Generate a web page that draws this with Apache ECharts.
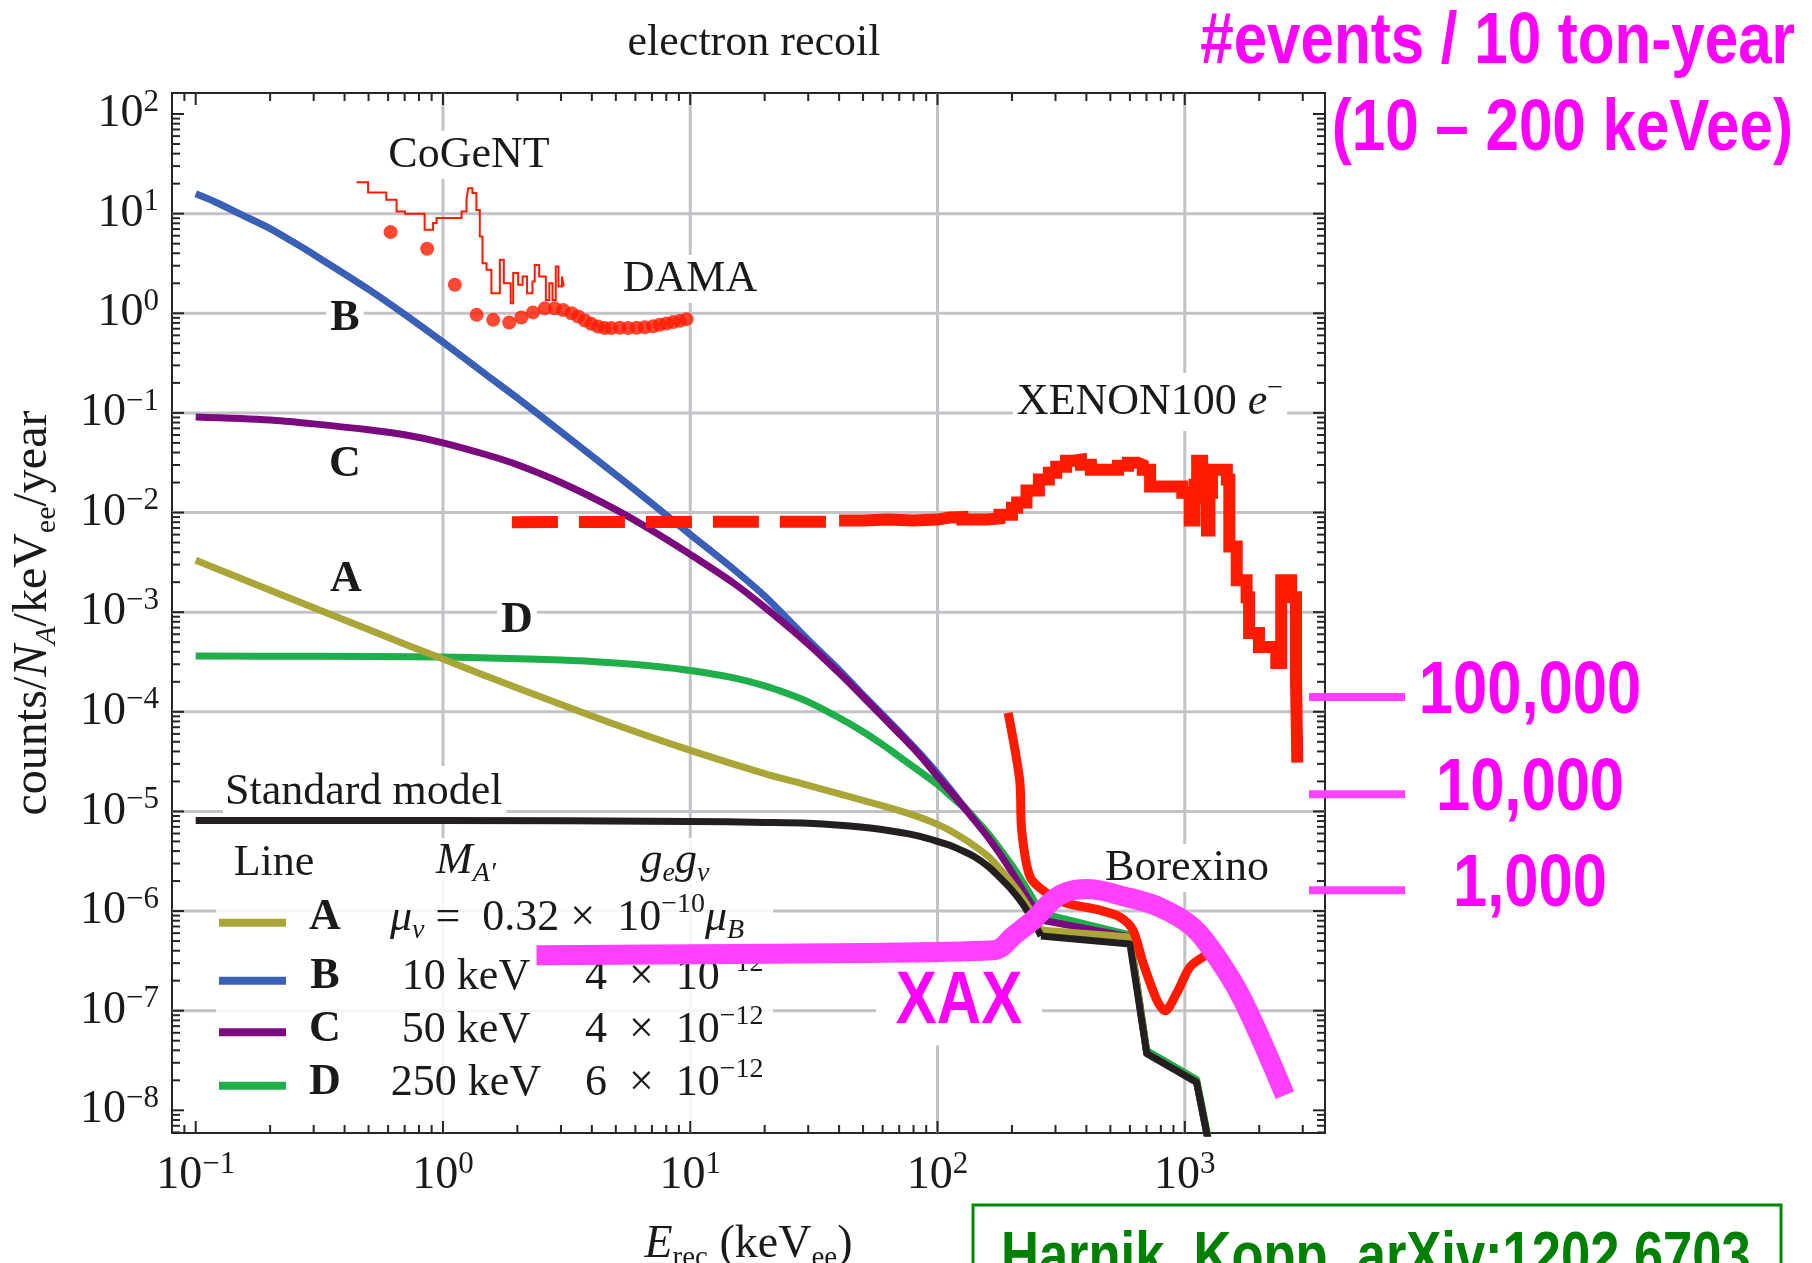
<!DOCTYPE html>
<html><head><meta charset="utf-8">
<script src="https://cdn.jsdelivr.net/npm/echarts@6/dist/echarts.min.js"></script>
<style>html,body{margin:0;padding:0;background:#fff}#c{width:1812px;height:1263px}</style>
</head><body><div id="c"></div>
<script>
// ---------- axis ranges & tick values ----------
const X_MIN = 0.0802, X_MAX = 3690, Y_MIN = 5.92e-9, Y_MAX = 162.5;
const xDecades = [0.01, 0.1, 1, 10, 100, 1000];
const yDecades = [1e-9, 1e-8, 1e-7, 1e-6, 1e-5, 1e-4, 1e-3, 1e-2, 1e-1, 1, 10, 100];
const tickMantissas = [1, 2, 3, 4, 5, 6, 7, 8, 9];
const xLabelVals = [0.1, 1, 10, 100, 1000];
const yLabelVals = [1e-8, 1e-7, 1e-6, 1e-5, 1e-4, 1e-3, 1e-2, 1e-1, 1, 10, 100];
const xGridVals = [1, 10, 100, 1000];
const yGridVals = [1e-7, 1e-6, 1e-5, 1e-4, 1e-3, 1e-2, 1e-1, 1, 10];

// ---------- model curves (E in keVee, counts/N_A/keVee/year) ----------
const lineB = [[0.1,15.8],[0.12,13.1],[0.15,10.0],[0.2,7.08],[0.25,5.12],[0.3,3.89],[0.5,1.74],[0.7,0.977],[1,0.513],[1.5,0.240],[2,0.141],[3,0.0646],[5,0.0240],[7,0.0123],[10,6.03e-3],[15,2.69e-3],[20,1.45e-3],[30,5.25e-4],[40,2.63e-4],[50,1.48e-4],[70,6.31e-5],[85,3.80e-5],[100,2.40e-5],[112,1.70e-5],[125,1.20e-5],[140,8.71e-6],[160,5.75e-6],[178,3.89e-6],[200,2.51e-6],[220,1.70e-6],[240,1.20e-6],[250,1.05e-6],[262,8.51e-7]];
const tailB = [[262,8.51e-7],[600,5.37e-7],[702,3.72e-8],[1117,1.91e-8],[1227,5.89e-9],[1290,3.16e-9]];
const lineC = [[0.1,0.0912],[0.2,0.0851],[0.3,0.0776],[0.5,0.0676],[0.7,0.0603],[1,0.0501],[1.5,0.0380],[2,0.0302],[3,0.0200],[5,0.0107],[7,6.61e-3],[10,3.80e-3],[15,1.95e-3],[20,1.12e-3],[30,4.79e-4],[40,2.45e-4],[50,1.41e-4],[70,6.03e-5],[85,3.63e-5],[100,2.24e-5],[112,1.62e-5],[125,1.17e-5],[140,8.32e-6],[160,5.50e-6],[178,3.80e-6],[200,2.45e-6],[220,1.66e-6],[240,1.17e-6],[250,1.02e-6],[262,8.13e-7]];
const tailC = [[262,8.13e-7],[600,5.50e-7],[702,3.72e-8],[1117,1.91e-8],[1227,5.89e-9],[1290,3.16e-9]];
const lineD = [[0.1,3.63e-4],[0.3,3.60e-4],[1,3.55e-4],[3,3.31e-4],[5,3.09e-4],[7,2.88e-4],[10,2.60e-4],[15,2.19e-4],[20,1.82e-4],[25,1.51e-4],[30,1.26e-4],[40,8.71e-5],[50,6.31e-5],[60,4.68e-5],[70,3.55e-5],[85,2.51e-5],[100,1.86e-5],[112,1.45e-5],[125,1.15e-5],[140,8.71e-6],[160,6.03e-6],[178,4.27e-6],[200,2.88e-6],[220,2.00e-6],[240,1.41e-6],[250,1.17e-6],[262,9.55e-7]];
const tailD = [[262,9.55e-7],[600,5.75e-7],[702,3.98e-8],[1117,2.04e-8],[1227,6.3e-9],[1290,3.4e-9]];
const lineA = [[0.1,3.31e-3],[0.2,1.66e-3],[0.5,6.68e-4],[1,3.38e-4],[2,1.73e-4],[5,7.4e-5],[10,4.1e-5],[20,2.4e-5],[30,1.83e-5],[50,1.29e-5],[70,1.02e-5],[85,8.71e-6],[100,7.41e-6],[112,6.46e-6],[125,5.50e-6],[140,4.57e-6],[160,3.55e-6],[178,2.69e-6],[200,1.91e-6],[220,1.38e-6],[240,9.77e-7],[250,8.32e-7],[262,6.46e-7]];
const tailA = [[262,6.46e-7],[600,5.50e-7],[702,3.72e-8],[1117,1.91e-8],[1227,5.89e-9],[1290,3.16e-9]];
const lineSM = [[0.1,8.13e-6],[1,8.13e-6],[10,7.94e-6],[20,7.76e-6],[30,7.59e-6],[50,6.92e-6],[70,6.17e-6],[85,5.62e-6],[100,5.01e-6],[112,4.57e-6],[125,4.07e-6],[140,3.55e-6],[160,2.82e-6],[178,2.19e-6],[200,1.62e-6],[220,1.20e-6],[243,8.13e-7],[262,5.62e-7]];
const tailSM = [[262,5.62e-7],[600,4.68e-7],[702,3.72e-8],[1117,1.91e-8],[1227,5.89e-9],[1290,3.16e-9]];

// ---------- experimental data ----------
const cogent = [[0.447,20.6],[0.498,16.3],[0.590,13.8],[0.649,10.5],[0.702,9.98],[0.843,6.89],[0.912,8.04],[0.942,9.02],[1.189,10.5],[1.245,13.8],[1.265,18.0],[1.315,16.1],[1.365,10.9],[1.409,5.90],[1.445,3.18],[1.500,2.73],[1.570,1.59],[1.698,3.44],[1.762,2.00],[1.879,1.26],[1.923,2.53],[2.014,1.93],[2.099,2.34],[2.188,1.59],[2.301,2.08],[2.350,3.06],[2.449,2.34],[2.606,1.36],[2.692,2.00],[2.773,1.36],[2.858,2.95],[2.931,1.86],[3.027,2.34],[3.083,1.86]];
const dama = [[0.614,6.53],[0.863,4.44],[1.117,1.93],[1.368,0.964],[1.596,0.859],[1.854,0.807],[2.075,0.908],[2.312,1.02],[2.582,1.12],[2.831,1.12],[3.062,1.08],[3.311,1.00],[3.524,0.929],[3.750,0.847],[3.981,0.783],[4.236,0.736],[4.508,0.710],[4.797,0.710],[5.188,0.715],[5.610,0.710],[6.067,0.715],[6.546,0.724],[7.079,0.741],[7.534,0.766],[8.017,0.789],[8.531,0.815],[9.078,0.839],[9.661,0.873]];
const xenonDashed = [[1.9,8.0e-3],[40,8.1e-3]];
const xenonSolid = [[40,8.3e-3],[50,8.5e-3],[63,8.3e-3],[80,8.5e-3],[100,8.9e-3],[112,9.0e-3],[126,8.5e-3],[158,8.7e-3],[178,9.5e-3],[200,1.12e-2],[210,1.26e-2],[229,1.66e-2],[257,2.14e-2],[282,2.51e-2],[302,2.88e-2],[331,3.31e-2],[355,3.39e-2],[380,3.02e-2],[417,2.69e-2],[501,2.69e-2],[537,2.95e-2],[589,3.16e-2],[646,3.02e-2],[676,2.69e-2],[724,1.82e-2],[851,1.82e-2],[977,1.58e-2],[1047,8.3e-3],[1096,1.9e-2],[1122,3.31e-2],[1175,1.41e-2],[1230,6.6e-3],[1259,1.58e-2],[1288,2.69e-2],[1479,2.14e-2],[1514,4.57e-3],[1622,2.09e-3],[1778,1.41e-3],[1820,6.17e-4],[1995,4.47e-4],[2239,4.47e-4],[2344,3.09e-4],[2455,2.09e-3],[2692,1.41e-3],[2818,2.09e-4],[2851,3.09e-5]];
const borexino = [[193,9.77e-5],[215,2.04e-5],[219,6.46e-6],[237,2.19e-6],[277,1.51e-6],[333,1.20e-6],[454,1.02e-6],[547,8.71e-7],[617,6.46e-7],[678,3.02e-7],[773,1.26e-7],[832,1.0e-7],[929,1.51e-7],[1050,2.75e-7],[1186,3.47e-7],[1259,3.80e-7]];
const xax = [[2.39,3.61e-7],[50,3.8e-7],[169,4.05e-7],[184,4.45e-7],[200,5.47e-7],[243,8.09e-7],[293,1.29e-6],[333,1.55e-6],[402,1.66e-6],[583,1.38e-6],[794,1.09e-6],[1079,6.89e-7],[1349,3.44e-7],[1718,1.27e-7],[2541,1.42e-8]];

// ---------- right-hand event scale ----------
const eventLevels = [1.41e-4, 1.49e-5, 1.62e-6];
const eventLabels = ['100,000', '10,000', '1,000'];

// ---------- legend table ----------
const legendKeys = ['A', 'B', 'C', 'D'];
const legendMass = ['', '10 keV', '50 keV', '250 keV'];
const legendCoupling = ['', '4', '4', '6'];
const legendCouplingExp = ['', '\u221212', '\u221212', '\u221212'];

// ---------- styles ----------
const SERIF = '"Liberation Serif","Times New Roman",serif';
const NARROW = '"Liberation Sans Narrow","Arial Narrow","Liberation Sans",sans-serif';
const NX = 0.82; // horizontal condensing for the narrow bold annotation font
const TXT = '#1a1a1a', FRAME = '#262626', GRIDC = '#c2c2c7';
const MAG = '#ff00ff', MAGLINE = '#ff40ff', RED = '#ff1a00';
const COL = {A: '#a9a637', B: '#3a5fb6', C: '#7a0a7e', D: '#1eae4a', SM: '#231f20'};

const xTicks = [];
xDecades.forEach(d => tickMantissas.forEach(m => { const v = m * d; if (v >= X_MIN && v <= X_MAX) xTicks.push([v, 1, m === 1 ? 1 : 0]); }));
const yTicks = [];
yDecades.forEach(d => tickMantissas.forEach(m => { const v = m * d; if (v >= Y_MIN && v <= Y_MAX) yTicks.push([1, v, m === 1 ? 1 : 0]); }));

function expStr(v) { const e = Math.round(Math.log10(v)); return e < 0 ? '\u2212' + (-e) : String(e); }

const TICK_RICH = {
  b: {fontFamily: SERIF, fontSize: 46, lineHeight: 54, fill: TXT},
  s: {fontFamily: SERIF, fontSize: 31, verticalAlign: 'top', fill: TXT}
};
const T_RICH = {
  n: {fontFamily: SERIF, fontSize: 44, lineHeight: 54, fill: TXT},
  i: {fontFamily: SERIF, fontSize: 44, fontStyle: 'italic', lineHeight: 54, fill: TXT},
  sub: {fontFamily: SERIF, fontSize: 28, verticalAlign: 'bottom', fill: TXT},
  si: {fontFamily: SERIF, fontSize: 28, fontStyle: 'italic', verticalAlign: 'bottom', fill: TXT},
  sup: {fontFamily: SERIF, fontSize: 28, verticalAlign: 'top', fill: TXT},
  b: {fontFamily: SERIF, fontSize: 44, fontWeight: 'bold', lineHeight: 54, fill: TXT}
};

function customSeries(data, z, renderItem) {
  return {type: 'custom', coordinateSystem: 'cartesian2d', data, z, silent: true, clip: false,
    encode: {x: 0, y: 1}, renderItem};
}
function lineSeries(data, color, width, z, extra) {
  return Object.assign({type: 'line', data, z, symbol: 'none', showSymbol: false, silent: true,
    lineStyle: {color, width, cap: 'butt', join: 'round'}, emphasis: {disabled: true}}, extra || {});
}

function annot(x, y, text, extra) {
  return {type: 'text', x, y, z: 2, silent: true,
    style: Object.assign({text, fill: TXT, fontFamily: SERIF, fontSize: 44, align: 'center', verticalAlign: 'middle',
      backgroundColor: '#fff', padding: [2, 4, 2, 4]}, extra || {})};
}

const graphics = [];
graphics.push({type: 'rect', z: 2, silent: true, shape: {x: 216, y: 838, width: 557, height: 293}, style: {fill: 'rgba(255,255,255,0.85)'}});
graphics.push(annot(469, 155, 'CoGeNT'));
graphics.push(annot(690, 279, 'DAMA'));
graphics.push(annot(1150, 402, 'XENON100 {i|e}{sup|\u2212}', {rich: T_RICH}));
graphics.push(annot(1187, 868, 'Borexino'));
graphics.push(annot(223, 792, 'Standard model', {align: 'left', padding: [2, 4, 6, 2]}));
graphics.push(annot(345, 319, 'B', {fontWeight: 'bold'}));
graphics.push(annot(345, 465, 'C', {fontWeight: 'bold'}));
graphics.push(annot(346, 580, 'A', {fontWeight: 'bold'}));
graphics.push(annot(517, 621, 'D', {fontWeight: 'bold'}));
const rowMid = [918, 977, 1030, 1083];
const swatchY = [922.7, 980.7, 1032.3, 1085.7];
const legendColors = [COL.A, COL.B, COL.C, COL.D];
function ltxt(x, y, text, align) {
  return {type: 'text', x, y, z: 3, silent: true, style: {text, rich: T_RICH, fill: TXT, fontFamily: SERIF, fontSize: 44, lineHeight: 54, align: align || 'center', verticalAlign: 'middle'}};
}
graphics.push(ltxt(274, 863, '{n|Line}'));
graphics.push(ltxt(466, 861, '{i|M}{si|A\u2032}'));
graphics.push(ltxt(675, 861, '{i|g}{si|e}{i|g}{si|\u03bd}'));
legendKeys.forEach((k, r) => {
  graphics.push({type: 'line', z: 3, silent: true, shape: {x1: 219, y1: swatchY[r], x2: 286, y2: swatchY[r]}, style: {stroke: legendColors[r], lineWidth: 8}});
  graphics.push(ltxt(325, rowMid[r], '{b|' + k + '}'));
  if (r === 0) {
    graphics.push(ltxt(390, rowMid[r], '{i|\u03bc}{si|\u03bd}{n| =  0.32 \u00d7  10}{sup|\u221210}{i|\u03bc}{si|B}', 'left'));
  } else {
    graphics.push(ltxt(466, rowMid[r], '{n|' + legendMass[r] + '}'));
    graphics.push(ltxt(585, rowMid[r], '{n|' + legendCoupling[r] + '  \u00d7  10}{sup|' + legendCouplingExp[r] + '}', 'left'));
  }
});
function narrowText(x, y, text, size, color, align, vAlign, z, sx, extra) {
  return {type: 'text', x, y, z, scaleX: sx, silent: true,
    style: Object.assign({text, fill: color, fontFamily: NARROW, fontWeight: 'bold', fontSize: size, align, verticalAlign: vAlign}, extra || {})};
}
graphics.push(narrowText(1795, 43, '#events / 10 ton-year', 72, MAG, 'right', 'middle', 5, 0.835));
graphics.push(narrowText(1793, 130, '(10 \u2013 200 keVee)', 72, MAG, 'right', 'middle', 5, 0.835));
graphics.push(narrowText(959, 1002, 'XAX', 75, MAG, 'center', 'middle', 2, NX, {backgroundColor: '#fff', padding: [0, 24, 12, 24]}));
graphics.push({type: 'rect', z: 5, silent: true, shape: {x: 973, y: 1205, width: 808, height: 90}, style: {fill: '#fff', stroke: '#008a00', lineWidth: 3}});
graphics.push(narrowText(1001, 1227, 'Harnik, Kopp, arXiv:1202.6703', 64, '#008000', 'left', 'top', 6, NX));

const series = [
  customSeries(xGridVals.map(v => [v, 1]), 1, (p, api) => {
    const cs = p.coordSys, x = api.coord([api.value(0), 1])[0];
    return {type: 'line', shape: {x1: x, y1: cs.y, x2: x, y2: cs.y + cs.height}, style: {stroke: GRIDC, lineWidth: 3}};
  }),
  customSeries(yGridVals.map(v => [1, v]), 1, (p, api) => {
    const cs = p.coordSys, y = api.coord([1, api.value(1)])[1];
    return {type: 'line', shape: {x1: cs.x, y1: y, x2: cs.x + cs.width, y2: y}, style: {stroke: GRIDC, lineWidth: 3}};
  }),
  lineSeries(lineB, COL.B, 7, 3, {smooth: 0.3}), lineSeries(tailB, COL.B, 7, 3),
  lineSeries(lineD, COL.D, 7, 4, {smooth: 0.3}), lineSeries(tailD, COL.D, 7, 4),
  lineSeries(lineC, COL.C, 7, 5, {smooth: 0.3}), lineSeries(tailC, COL.C, 7, 5),
  lineSeries(lineA, COL.A, 7, 6, {smooth: 0.3}), lineSeries(tailA, COL.A, 7, 6),
  lineSeries(lineSM, COL.SM, 7, 7, {smooth: 0.3}), lineSeries(tailSM, COL.SM, 7, 7),
  lineSeries(cogent, RED, 2, 8, {step: 'end', lineStyle: {color: RED, width: 2, join: 'miter'}}),
  {type: 'scatter', data: dama, z: 8, silent: true, symbol: 'circle', symbolSize: 14, itemStyle: {color: RED}, emphasis: {disabled: true}},
  lineSeries(xenonDashed, RED, 12, 8, {lineStyle: {color: RED, width: 12, type: [46, 21], cap: 'butt'}}),
  lineSeries(xenonSolid, RED, 12, 8, {step: 'end', lineStyle: {color: RED, width: 12, join: 'miter', cap: 'butt'}}),
  lineSeries(borexino, RED, 9, 8, {smooth: 0.3}),
  lineSeries(xax, MAGLINE, 20, 10, {smooth: 0.35}),
  customSeries(xTicks, 11, (p, api) => {
    const cs = p.coordSys, x = api.coord([api.value(0), 1])[0], len = api.value(2) ? 12 : 8, yb = cs.y + cs.height;
    return {type: 'group', children: [
      {type: 'line', shape: {x1: x, y1: yb, x2: x, y2: yb - len}, style: {stroke: FRAME, lineWidth: 2}},
      {type: 'line', shape: {x1: x, y1: cs.y, x2: x, y2: cs.y + len}, style: {stroke: FRAME, lineWidth: 2}}]};
  }),
  customSeries(yTicks, 11, (p, api) => {
    const cs = p.coordSys, y = api.coord([1, api.value(1)])[1], len = api.value(2) ? 12 : 8, xr = cs.x + cs.width;
    return {type: 'group', children: [
      {type: 'line', shape: {x1: cs.x, y1: y, x2: cs.x + len, y2: y}, style: {stroke: FRAME, lineWidth: 2}},
      {type: 'line', shape: {x1: xr, y1: y, x2: xr - len, y2: y}, style: {stroke: FRAME, lineWidth: 2}}]};
  }),
  customSeries(xLabelVals.map(v => [v, 1]), 11, (p, api) => {
    const cs = p.coordSys, v = api.value(0), x = api.coord([v, 1])[0];
    return {type: 'text', x, y: cs.y + cs.height + 16, style: {text: '{b|10}{s|' + expStr(v) + '}', rich: TICK_RICH, fill: TXT, fontFamily: SERIF, fontSize: 46, align: 'center', verticalAlign: 'top'}};
  }),
  customSeries(yLabelVals.map(v => [1, v]), 11, (p, api) => {
    const cs = p.coordSys, v = api.value(1), y = api.coord([1, v])[1];
    return {type: 'text', x: cs.x - 13, y, style: {text: '{b|10}{s|' + expStr(v) + '}', rich: TICK_RICH, fill: TXT, fontFamily: SERIF, fontSize: 46, align: 'right', verticalAlign: 'middle'}};
  }),
  customSeries(eventLevels.map((v, i) => [X_MAX, v, i]), 11, (p, api) => {
    const cs = p.coordSys, y = api.coord([1, api.value(1)])[1], xr = cs.x + cs.width;
    return {type: 'group', children: [
      {type: 'line', shape: {x1: xr - 16, y1: y, x2: xr + 80, y2: y}, style: {stroke: MAGLINE, lineWidth: 8}},
      {type: 'text', x: xr + 205, y: y - 5, scaleX: NX, style: {text: eventLabels[api.value(2)], fill: MAG, fontFamily: NARROW, fontWeight: 'bold', fontSize: 75, align: 'center', verticalAlign: 'middle'}}]};
  })
];

const chart = echarts.init(document.getElementById('c'), null, {renderer: 'canvas', width: 1812, height: 1263});
chart.setOption({
  animation: false,
  backgroundColor: '#fff',
  title: {text: 'electron recoil', left: 749, top: 16, textAlign: 'center',
    textStyle: {fontFamily: SERIF, fontSize: 44, fontWeight: 'normal', color: TXT}},
  grid: {left: 172, top: 93, width: 1153, height: 1040, show: true, borderColor: FRAME, borderWidth: 2,
    backgroundColor: 'transparent', containLabel: false, outerBoundsMode: 'none'},
  xAxis: {type: 'log', logBase: 10, min: X_MIN, max: X_MAX,
    axisLine: {show: false}, axisTick: {show: false}, axisLabel: {show: false}, splitLine: {show: false},
    name: '{i|E}{sub|rec} (keV{sub|ee})', nameLocation: 'middle', nameGap: 84,
    nameTextStyle: {fontFamily: SERIF, fontSize: 46, color: TXT, lineHeight: 56,
      rich: {i: {fontFamily: SERIF, fontSize: 46, fontStyle: 'italic', color: TXT, lineHeight: 56},
             sub: {fontFamily: SERIF, fontSize: 29, color: TXT, verticalAlign: 'bottom'}}}},
  yAxis: {type: 'log', logBase: 10, min: Y_MIN, max: Y_MAX,
    axisLine: {show: false}, axisTick: {show: false}, axisLabel: {show: false}, splitLine: {show: false},
    name: 'counts/{i|N}{si|A}/keV{sub|ee}/year', nameLocation: 'middle', nameGap: 110, nameRotate: 90,
    nameTextStyle: {fontFamily: SERIF, fontSize: 48, color: TXT, lineHeight: 58,
      rich: {i: {fontFamily: SERIF, fontSize: 48, fontStyle: 'italic', color: TXT, lineHeight: 58},
             si: {fontFamily: SERIF, fontSize: 30, fontStyle: 'italic', color: TXT, verticalAlign: 'bottom'},
             sub: {fontFamily: SERIF, fontSize: 30, color: TXT, verticalAlign: 'bottom'}}}},
  tooltip: {show: false},
  graphic: graphics,
  series
});
</script></body></html>
